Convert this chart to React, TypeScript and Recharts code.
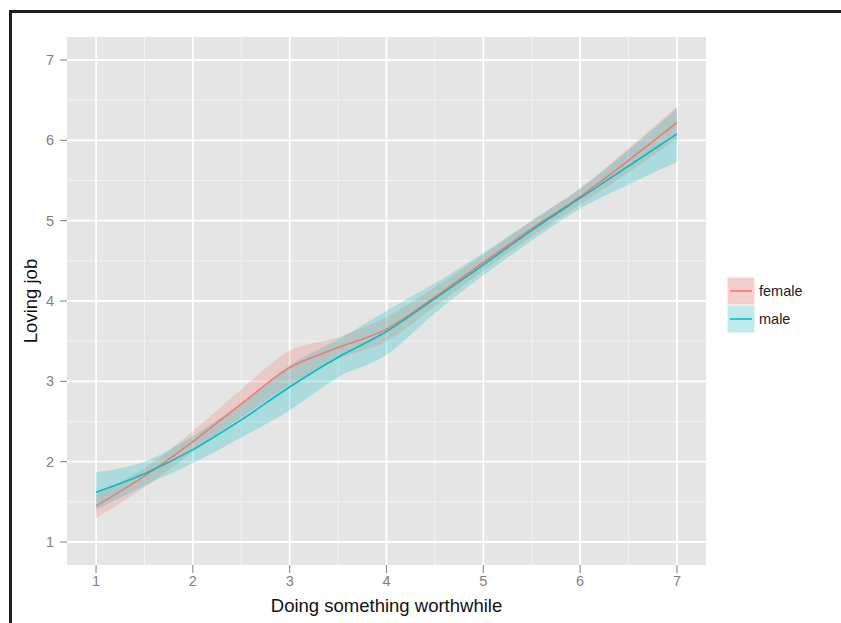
import React from "react";
import {
  ComposedChart,
  Area,
  Line,
  XAxis,
  YAxis,
  CartesianGrid,
} from "recharts";

const xs = [1, 1.5, 2, 2.5, 3, 3.5, 4, 4.5, 5, 5.5, 6, 6.5, 7];
const femaleFit = [1.45, 1.82, 2.25, 2.72, 3.17, 3.42, 3.65, 4.05, 4.48, 4.9, 5.3, 5.75, 6.22];
const femaleLow = [1.3, 1.68, 2.12, 2.55, 2.95, 3.28, 3.5, 3.93, 4.38, 4.8, 5.2, 5.6, 6.02];
const femaleHigh = [1.6, 1.92, 2.38, 2.9, 3.38, 3.55, 3.8, 4.17, 4.58, 5.0, 5.4, 5.9, 6.42];
const maleFit = [1.62, 1.85, 2.15, 2.52, 2.93, 3.3, 3.62, 4.03, 4.45, 4.88, 5.28, 5.68, 6.08];
const maleLow = [1.4, 1.7, 1.98, 2.3, 2.64, 3.05, 3.33, 3.85, 4.32, 4.75, 5.15, 5.45, 5.73];
const maleHigh = [1.87, 2.0, 2.32, 2.72, 3.2, 3.52, 3.88, 4.22, 4.6, 5.0, 5.4, 5.88, 6.4];

const majorTicks = [1, 2, 3, 4, 5, 6, 7];
const minorTicks = [1.5, 2.5, 3.5, 4.5, 5.5, 6.5];
const seriesNames = ["female", "male"];
const xTitle = "Doing something worthwhile";
const yTitle = "Loving job";

const RED = "#F8766D";
const TEAL = "#00BFC4";
const FONT = "'Liberation Sans', Arial, Helvetica, sans-serif";

const data = xs.map((x, i) => ({
  x,
  female: femaleFit[i],
  male: maleFit[i],
  femaleBand: [femaleLow[i], femaleHigh[i]],
  maleBand: [maleLow[i], maleHigh[i]],
}));

const LegendBox = () => {
  const items = [
    { name: seriesNames[0], fill: "#F5CFCD", line: RED },
    { name: seriesNames[1], fill: "#BFE9EA", line: TEAL },
  ];
  return (
    <div style={{ position: "absolute", left: 727, top: 277, fontFamily: FONT }}>
      {items.map((it) => (
        <div key={it.name} style={{ display: "flex", alignItems: "center", height: 28 }}>
          <svg width={28} height={28} style={{ display: "block" }}>
            <rect x={0.5} y={0.5} width={27} height={27} fill={it.fill} />
            <line x1={3} x2={25} y1={14} y2={14} stroke={it.line} strokeWidth={1.6} />
          </svg>
          <span style={{ marginLeft: 4, fontSize: 14.5, color: "#222" }}>{it.name}</span>
        </div>
      ))}
    </div>
  );
};

export default function App() {
  return (
    <div style={{ position: "absolute", left: 0, top: 0, width: 841, height: 623, background: "#fff", overflow: "hidden" }}>
      <div
        style={{
          position: "absolute",
          left: 9,
          top: 10,
          width: 832,
          height: 613,
          borderTop: "3px solid #1e1e1e",
          borderLeft: "3px solid #1e1e1e",
          boxSizing: "border-box",
        }}
      />
      <div style={{ position: "absolute", left: 0, top: 0 }}>
        <ComposedChart
          width={841}
          height={623}
          data={data}
          margin={{ top: 37, right: 135, bottom: 28, left: 27 }}
        >
          <CartesianGrid
            fill="#E5E5E5"
            stroke="#F2F2F2"
            strokeWidth={1}
            horizontalValues={minorTicks}
            verticalValues={minorTicks}
          />
          <CartesianGrid
            fill="none"
            stroke="#FFFFFF"
            strokeWidth={1.8}
            horizontalValues={majorTicks}
            verticalValues={majorTicks}
          />
          <XAxis
            type="number"
            dataKey="x"
            domain={[0.7, 7.3]}
            ticks={majorTicks}
            allowDataOverflow
            height={30}
            axisLine={false}
            tickSize={8}
            tickMargin={3}
            tickLine={{ stroke: "#7F7F7F", strokeWidth: 1 }}
            tick={{ fill: "#7F7F7F", fontSize: 14.5, fontFamily: FONT }}
            label={(props: any) => {
              const vb = props.viewBox;
              return (
                <text
                  x={vb.x + vb.width / 2}
                  y={vb.y + vb.height + 10}
                  textAnchor="middle"
                  dominantBaseline="central"
                  fontSize={18.5}
                  fontFamily={FONT}
                  fill="#111"
                >
                  {xTitle}
                </text>
              );
            }}
          />
          <YAxis
            type="number"
            domain={[0.714, 7.286]}
            ticks={majorTicks}
            allowDataOverflow
            width={40}
            axisLine={false}
            tickSize={7}
            tickMargin={6}
            tickLine={{ stroke: "#7F7F7F", strokeWidth: 1 }}
            tick={{ fill: "#7F7F7F", fontSize: 14.5, fontFamily: FONT }}
            label={(props: any) => {
              const vb = props.viewBox;
              const cx = vb.x + 3;
              const cy = vb.y + vb.height / 2;
              return (
                <text
                  x={cx}
                  y={cy}
                  transform={`rotate(-90 ${cx} ${cy})`}
                  textAnchor="middle"
                  dominantBaseline="central"
                  fontSize={18.5}
                  fontFamily={FONT}
                  fill="#111"
                >
                  {yTitle}
                </text>
              );
            }}
          />
          <Area
            type="monotone"
            dataKey="femaleBand"
            stroke="none"
            fill={RED}
            fillOpacity={0.25}
            isAnimationActive={false}
          />
          <Line
            type="monotone"
            dataKey="female"
            stroke={RED}
            strokeWidth={1.6}
            dot={false}
            isAnimationActive={false}
          />
          <Area
            type="monotone"
            dataKey="maleBand"
            stroke="none"
            fill={TEAL}
            fillOpacity={0.25}
            isAnimationActive={false}
          />
          <Line
            type="monotone"
            dataKey="male"
            stroke={TEAL}
            strokeWidth={1.6}
            dot={false}
            isAnimationActive={false}
          />
        </ComposedChart>
      </div>
      <LegendBox />
    </div>
  );
}
